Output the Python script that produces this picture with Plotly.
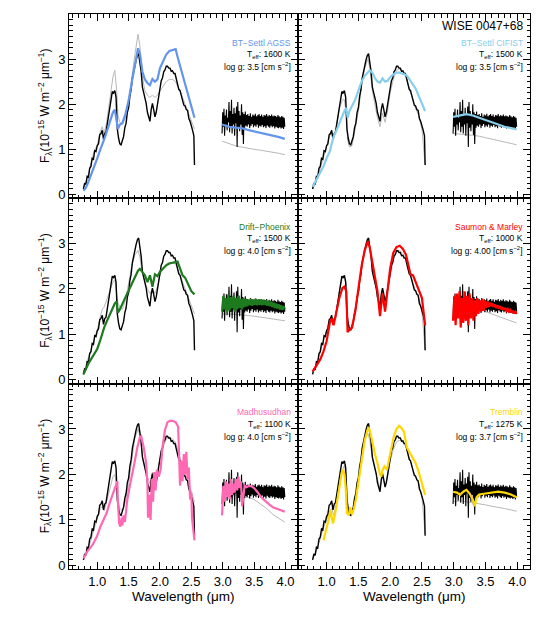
import plotly.graph_objects as go
from plotly.subplots import make_subplots

# ---------------- data ----------------
# observed spectrum, near-IR part
WL_OBS = [0.78,0.80,0.82,0.84,0.86,0.88,0.90,0.92,0.94,0.96,0.98,1.00,1.02,1.04,1.06,1.08,1.10,1.12,1.14,1.16,
          1.18,1.20,1.22,1.24,1.26,1.28,1.30,1.32,1.34,1.36,1.38,1.40,1.42,1.44,1.46,1.48,1.50,1.52,1.54,1.56,
          1.58,1.60,1.62,1.64,1.66,1.68,1.70,1.72,1.74,1.76,1.78,1.80,1.82,1.84,1.86,1.88,1.90,1.92,1.94,1.96,
          1.98,2.00,2.02,2.04,2.06,2.08,2.10,2.12,2.14,2.16,2.18,2.20,2.22,2.24,2.26,2.28,2.30,2.32,2.34,2.36,
          2.38,2.40,2.42,2.44,2.46,2.48,2.50,2.52,2.54,2.55]
OBS_NIR = [0.12,0.25,0.22,0.40,0.38,0.58,0.62,0.80,0.78,0.97,0.95,1.08,1.12,1.32,1.35,1.42,1.22,1.35,1.38,1.58,
           1.72,1.98,2.12,2.28,2.25,2.30,2.15,1.45,1.25,1.12,1.10,1.18,1.28,1.48,1.58,1.82,1.92,2.18,2.32,2.58,
           2.72,2.92,2.98,3.08,3.12,2.92,2.72,2.38,2.28,2.12,2.02,1.82,1.72,1.62,1.88,2.02,1.88,1.72,1.82,1.98,
           2.22,2.32,2.52,2.58,2.72,2.76,2.84,2.84,2.80,2.80,2.73,2.74,2.68,2.68,2.58,2.46,2.33,2.30,2.18,2.10,
           1.98,1.96,1.88,1.86,1.68,1.62,1.48,1.42,1.30,0.65]

# observed spectrum, L band (0.01 um steps)
WL_OBS_L = [2.99,3.00,3.01,3.02,3.03,3.04,3.05,3.06,3.07,3.08,3.09,3.10,3.11,3.12,3.13,3.14,3.15,3.16,3.17,3.18,
            3.19,3.20,3.21,3.22,3.23,3.24,3.25,3.26,3.27,3.28,3.29,3.30,3.31,3.32,3.33,3.34,3.35,3.36,3.37,3.38,
            3.39,3.40,3.41,3.42,3.43,3.44,3.45,3.46,3.47,3.48,3.49,3.50,3.51,3.52,3.53,3.54,3.55,3.56,3.57,3.58,
            3.59,3.60,3.61,3.62,3.63,3.64,3.65,3.66,3.67,3.68,3.69,3.70,3.71,3.72,3.73,3.74,3.75,3.76,3.77,3.78,
            3.79,3.80,3.81,3.82,3.83,3.84,3.85,3.86,3.87,3.88,3.89,3.90,3.91,3.92,3.93,3.94,3.95,3.96,3.97,3.98,
            3.99]
OBS_L = [1.35,1.82,1.50,1.90,1.30,1.75,1.55,1.88,1.42,1.70,
         1.60,2.05,1.38,1.85,1.50,2.10,1.35,1.78,1.55,1.92,
         1.30,1.80,1.58,1.95,1.05,2.05,1.48,1.85,1.40,1.75,
         1.55,2.00,1.32,1.82,1.12,1.78,1.48,1.84,1.52,1.76,
         1.50,1.78,1.55,1.74,1.47,1.80,1.52,1.72,1.56,1.77,
         1.49,1.75,1.53,1.79,1.50,1.73,1.55,1.76,1.48,1.78,
         1.52,1.74,1.50,1.77,1.54,1.72,1.49,1.76,1.51,1.75,
         1.47,1.78,1.53,1.73,1.50,1.76,1.48,1.74,1.52,1.77,
         1.49,1.73,1.51,1.75,1.46,1.74,1.50,1.72,1.48,1.76,
         1.47,1.73,1.49,1.71,1.46,1.74,1.48,1.72,1.45,1.70,1.50]

# L band, 0.02 um grid (noisy models)
WL_LN = [2.99,3.01,3.03,3.05,3.07,3.09,3.11,3.13,3.15,3.17,3.19,3.21,3.23,3.25,3.27,3.29,3.31,3.33,3.35,3.37,
         3.39,3.41,3.43,3.45,3.47,3.49,3.51,3.53,3.55,3.57,3.59,3.61,3.63,3.65,3.67,3.69,3.71,3.73,3.75,3.77,
         3.79,3.81,3.83,3.85,3.87,3.89,3.91,3.93,3.95,3.97,3.99]

# model grids
WL_M = [0.78,0.82,0.86,0.90,0.95,1.00,1.05,1.08,1.11,1.15,1.20,1.25,1.28,1.31,1.33,1.36,1.40,1.45,1.50,1.55,
        1.60,1.65,1.68,1.72,1.76,1.80,1.84,1.88,1.92,1.96,2.00,2.05,2.10,2.15,2.20,2.25,2.28,2.32,2.36,2.40,
        2.45,2.50,2.55]
WL_L = [2.99,3.10,3.20,3.30,3.40,3.50,3.60,3.70,3.80,3.90,3.99]

# BT-Settl AGSS
AGSS_NIR = [0.08,0.15,0.28,0.42,0.62,0.80,1.00,1.10,1.22,1.38,1.62,1.82,1.88,1.55,1.45,1.55,1.58,1.78,2.08,2.48,
            2.88,3.24,3.12,2.72,2.55,2.47,2.42,2.56,2.50,2.55,2.80,2.96,3.10,3.18,3.20,3.22,3.05,2.85,2.65,2.45,
            2.20,1.95,1.70]
AGSS_L = [1.55,1.50,1.48,1.47,1.43,1.40,1.37,1.34,1.31,1.27,1.23]
GREY1_NIR = [0.15,0.30,0.45,0.70,0.95,1.10,1.40,1.50,1.35,1.60,2.10,2.60,2.75,2.30,1.75,1.60,1.55,1.70,2.05,2.60,
             3.10,3.55,3.30,2.60,2.30,2.20,2.15,2.20,2.15,2.20,2.30,2.40,2.50,2.55,2.55,2.50,2.40,2.30,2.15,2.00,
             1.85,1.65,1.45]
GREY1_L = [1.18,1.12,1.08,1.05,1.02,1.00,0.98,0.96,0.94,0.91,0.88]

# BT-Settl CIFIST
CIFIST_NIR = [0.17,0.28,0.40,0.50,0.62,0.80,0.95,1.12,1.28,1.40,1.58,1.75,1.85,1.92,1.70,1.85,1.95,2.10,2.30,2.50,
              2.63,2.72,2.75,2.70,2.58,2.50,2.48,2.57,2.50,2.52,2.60,2.66,2.70,2.70,2.68,2.65,2.60,2.52,2.45,2.35,
              2.18,2.00,1.85]
CIFIST_L = [1.72,1.75,1.78,1.75,1.70,1.65,1.60,1.55,1.50,1.47,1.44]
GREY2_NIR = [0.12,0.22,0.38,0.58,0.85,1.05,1.30,1.38,1.22,1.50,1.90,2.10,2.10,1.80,1.20,1.05,1.08,1.45,1.85,2.40,
             2.80,3.00,2.80,2.30,2.00,1.70,1.50,1.80,1.60,1.85,2.25,2.55,2.75,2.78,2.72,2.62,2.45,2.25,2.05,1.90,
             1.75,1.45,0.65]
GREY2_L = [1.35,1.34,1.33,1.31,1.29,1.26,1.23,1.20,1.17,1.13,1.10]

# Drift-Phoenix
DRIFT_NIR = [0.12,0.25,0.36,0.45,0.56,0.68,0.88,1.02,1.15,1.28,1.45,1.58,1.68,1.72,1.48,1.55,1.68,1.82,1.96,2.12,
             2.28,2.40,2.44,2.38,2.30,2.15,2.30,2.05,2.32,2.28,2.38,2.45,2.52,2.56,2.58,2.60,2.60,2.45,2.30,2.25,
             2.10,1.95,1.88]
DRIFT_L = [1.50,1.85,1.55,1.80,1.48,1.88,1.52,1.82,1.58,1.85,
           1.50,1.80,1.55,1.85,1.58,1.78,1.55,1.80,1.60,1.78,
           1.62,1.76,1.64,1.78,1.63,1.77,1.65,1.78,1.64,1.76,
           1.65,1.77,1.64,1.76,1.65,1.75,1.63,1.74,1.62,1.72,
           1.60,1.70,1.58,1.68,1.57,1.66,1.55,1.64,1.54,1.62,1.55]
GREY3_NIR = [0.15,0.32,0.48,0.65,0.90,1.10,1.40,1.55,1.60,1.75,1.95,2.15,2.20,1.95,1.70,1.60,1.55,1.75,2.10,2.50,
             2.75,2.85,2.70,2.35,2.15,2.00,1.90,2.00,1.90,2.05,2.30,2.45,2.55,2.58,2.58,2.55,2.45,2.30,2.15,2.00,
             1.85,1.65,1.45]
GREY3_L = [1.45,1.45,1.44,1.43,1.42,1.40,1.38,1.36,1.34,1.32,1.30]

# Saumon & Marley
SM_NIR = [0.18,0.28,0.38,0.45,0.62,0.85,1.25,1.35,1.20,1.45,1.80,2.02,2.05,1.95,1.05,1.10,1.15,1.50,2.00,2.50,
          2.85,3.05,2.90,2.55,2.30,1.95,1.40,1.90,1.50,2.00,2.45,2.80,2.92,2.95,2.88,2.75,2.55,2.32,2.30,2.15,
          2.00,1.80,1.20]
SM_L = [1.30,1.85,1.20,1.90,1.35,1.95,1.15,1.80,1.25,1.95,
        1.30,1.85,1.20,1.90,1.35,1.80,1.30,1.75,1.40,1.80,
        1.45,1.75,1.50,1.78,1.52,1.75,1.58,1.72,1.60,1.70,
        1.62,1.68,1.60,1.66,1.58,1.64,1.57,1.62,1.55,1.60,
        1.54,1.58,1.52,1.56,1.50,1.54,1.48,1.52,1.46,1.50,1.45]
GREY4_NIR = [0.15,0.28,0.42,0.60,0.85,1.05,1.35,1.40,1.25,1.50,1.95,2.25,2.28,2.10,1.20,1.10,1.12,1.45,1.90,2.50,
             2.90,3.08,2.90,2.40,2.15,1.85,1.65,1.95,1.75,1.95,2.30,2.65,2.82,2.85,2.78,2.68,2.50,2.30,2.10,1.95,
             1.85,1.50,0.65]
GREY4_L = [1.55,1.58,1.58,1.57,1.55,1.50,1.45,1.40,1.35,1.30,1.25]

# Madhusudhan
WL_MAD = [0.78,0.85,0.93,1.00,1.05,1.08,1.11,1.15,1.20,1.25,1.30,1.32,1.33,1.35,1.37,1.39,1.40,1.42,1.44,1.46,
          1.48,1.52,1.56,1.60,1.64,1.68,1.70,1.74,1.78,1.80,1.81,1.83,1.85,1.87,1.89,1.91,1.93,1.95,1.98,2.01,
          2.04,2.08,2.12,2.16,2.20,2.25,2.29,2.31,2.32,2.34,2.36,2.38,2.40,2.42,2.44,2.46,2.48,2.50,2.51,2.53,
          2.55]
MAD_NIR = [0.15,0.32,0.46,0.65,0.85,0.95,1.02,1.15,1.38,1.58,1.75,1.85,1.40,0.92,0.85,1.05,0.88,1.10,0.95,1.30,
           1.45,1.75,2.00,2.30,2.60,2.82,2.84,2.60,2.25,1.80,1.05,1.55,1.00,1.90,1.40,2.05,1.65,2.10,1.95,2.10,
           2.60,2.98,3.15,3.18,3.18,3.15,3.05,2.40,1.75,2.30,1.85,2.45,2.00,2.50,1.90,2.15,1.45,1.60,1.05,0.80,
           0.55]
WL_MAD_L = [2.99,3.01,3.03,3.05,3.07,3.09,3.11,3.13,3.15,3.17,3.19,3.21,3.23,3.25,3.27,3.29,3.31,3.33,3.35,3.38,
            3.42,3.46,3.50,3.55,3.60,3.65,3.70,3.75,3.80,3.85,3.90,3.95,3.99]
MAD_L = [1.10,1.75,1.40,1.85,1.50,1.80,1.45,1.90,1.55,1.80,1.60,1.90,1.65,1.95,1.70,1.85,1.30,1.60,1.75,1.72,
         1.75,1.74,1.70,1.62,1.52,1.45,1.38,1.33,1.28,1.25,1.23,1.20,1.18]
GREY5_NIR = [0.12,0.25,0.40,0.55,0.80,1.02,1.25,1.30,1.20,1.40,1.70,1.95,2.00,1.75,1.45,1.25,1.20,1.40,1.80,2.35,
             2.80,3.00,2.85,2.40,2.15,1.95,1.80,2.05,1.85,2.05,2.35,2.60,2.78,2.82,2.78,2.70,2.55,2.35,2.15,2.00,
             1.85,1.60,1.40]
GREY5_L = [1.50,1.55,1.55,1.50,1.50,1.45,1.35,1.25,1.12,1.02,0.95]

# Tremblin
WL_TR = [0.95,1.00,1.04,1.06,1.08,1.10,1.13,1.16,1.20,1.24,1.26,1.28,1.30,1.32,1.35,1.37,1.40,1.43,1.46,1.50,
         1.56,1.60,1.64,1.66,1.69,1.72,1.76,1.80,1.84,1.86,1.88,1.91,1.95,2.00,2.06,2.10,2.14,2.18,2.22,2.26,
         2.30,2.35,2.40,2.45,2.50,2.55]
TR_NIR = [0.55,0.80,1.05,1.22,1.10,0.92,1.10,1.38,1.72,2.05,2.10,2.00,1.72,1.15,1.10,1.28,1.12,1.25,1.45,1.85,
          2.40,2.75,2.96,3.04,2.90,2.70,2.45,2.25,2.00,1.95,2.10,2.18,2.10,2.45,2.85,3.00,3.07,3.02,2.93,2.60,
          2.50,2.40,2.25,2.05,1.80,1.55]
WL_TR_L = [2.99,3.05,3.10,3.15,3.20,3.25,3.30,3.33,3.36,3.40,3.50,3.60,3.70,3.80,3.90,3.99]
TR_L = [1.62,1.60,1.55,1.62,1.66,1.58,1.45,1.30,1.50,1.56,1.58,1.60,1.62,1.60,1.56,1.50]
GREY6_NIR = [0.12,0.25,0.40,0.58,0.82,1.00,1.20,1.25,1.10,1.35,1.75,2.10,2.20,1.95,1.25,1.10,1.12,1.40,1.85,2.40,
             2.75,2.90,2.75,2.35,2.10,1.90,1.70,1.95,1.75,1.95,2.30,2.55,2.72,2.75,2.70,2.60,2.45,2.30,2.10,1.95,
             1.80,1.50,0.70]
GREY6_L = [1.40,1.42,1.40,1.38,1.36,1.33,1.30,1.28,1.25,1.22,1.19]

MODEL_NAMES = ["BT\u2212Settl AGSS", "BT\u2212Settl CIFIST", "Drift\u2212Phoenix",
               "Saumon & Marley", "Madhusudhan", "Tremblin"]
TEFF = ["1600", "1500", "1500", "1000", "1100", "1275"]
LOGG = ["3.5", "3.5", "4.0", "4.00", "4.0", "3.7"]
COLORS = ["#6495ED", "#87CEEB", "#1E7A1E", "#FF0000", "#FF69B4", "#FFD700"]
XTICKS = [1.0, 1.5, 2.0, 2.5, 3.0, 3.5, 4.0]
YTICKS = [0, 1, 2, 3]

# ---------------- figure ----------------
W, H = 538, 619
FONT = "Liberation Sans, Arial, Helvetica, sans-serif"
GREY = "#b8b8b8"

fig = make_subplots(rows=3, cols=2, horizontal_spacing=0, vertical_spacing=0)

panels = [
    (1, 1, (WL_M, AGSS_NIR), (WL_L, AGSS_L), GREY1_NIR, GREY1_L),
    (1, 2, (WL_M, CIFIST_NIR), (WL_L, CIFIST_L), GREY2_NIR, GREY2_L),
    (2, 1, (WL_M, DRIFT_NIR), (WL_LN, DRIFT_L), GREY3_NIR, GREY3_L),
    (2, 2, (WL_M, SM_NIR), (WL_LN, SM_L), GREY4_NIR, GREY4_L),
    (3, 1, (WL_MAD, MAD_NIR), (WL_MAD_L, MAD_L), GREY5_NIR, GREY5_L),
    (3, 2, (WL_TR, TR_NIR), (WL_TR_L, TR_L), GREY6_NIR, GREY6_L),
]

for i, (r, c, mn, ml, gn, gl) in enumerate(panels):
    fig.add_trace(go.Scatter(x=WL_M + [None] + WL_L, y=gn + [None] + gl, mode="lines",
                             line=dict(color=GREY, width=1), showlegend=False, hoverinfo="skip"), row=r, col=c)
    fig.add_trace(go.Scatter(x=WL_OBS, y=OBS_NIR, mode="lines",
                             line=dict(color="black", width=1.4), showlegend=False, hoverinfo="skip"), row=r, col=c)
    fig.add_trace(go.Scatter(x=WL_OBS_L, y=OBS_L, mode="lines",
                             line=dict(color="black", width=1.1), showlegend=False, hoverinfo="skip"), row=r, col=c)
    fig.add_trace(go.Scatter(x=mn[0] + [None] + ml[0], y=mn[1] + [None] + ml[1], mode="lines",
                             line=dict(color=COLORS[i], width=2.2), showlegend=False, hoverinfo="skip"), row=r, col=c)

# panel geometry in pixels
XL = [(69, 298), (298, 530)]
YR = [(14, 198), (198, 383.5), (383.5, 569)]

def px(x):
    return x / W

def py(y):
    return 1 - y / H

axis_common = dict(showline=True, linecolor="black", linewidth=1, mirror="allticks",
                   ticks="inside", ticklen=7, tickcolor="black", tickwidth=1, automargin=False,
                   showgrid=False, zeroline=False, tickfont=dict(family=FONT, size=13, color="black"))

for r in range(1, 4):
    for c in range(1, 3):
        idx = (r - 1) * 2 + c
        xname = "xaxis" if idx == 1 else f"xaxis{idx}"
        yname = "yaxis" if idx == 1 else f"yaxis{idx}"
        fig.layout[xname].update(
            domain=[px(XL[c - 1][0]), px(XL[c - 1][1])], range=[0.55, 4.2],
            tickvals=XTICKS, ticktext=[f"{v:.1f}" for v in XTICKS], showticklabels=(r == 3),
            minor=dict(dtick=0.1, tick0=0, ticks="inside", ticklen=3.5, tickcolor="black"),
            **axis_common)
        fig.layout[yname].update(
            domain=[py(YR[r - 1][1]), py(YR[r - 1][0])], range=[-0.08, 4.0],
            tickvals=YTICKS, ticktext=[str(v) for v in YTICKS], showticklabels=(c == 1),
            minor=dict(dtick=0.125, tick0=0, ticks="inside", ticklen=3.5, tickcolor="black"),
            **axis_common)

ann = []
YT = "F<sub>λ</sub>(10<sup>−15</sup> W m<sup>−2</sup> μm<sup>−1</sup>)"
for r in range(3):
    yc = (YR[r][0] + YR[r][1]) / 2
    ann.append(dict(x=px(45), y=py(yc), xref="paper", yref="paper", text=YT, textangle=-90,
                    showarrow=False, font=dict(family=FONT, size=12, color="black"),
                    xanchor="center", yanchor="middle"))
for c in range(2):
    xc = (XL[c][0] + XL[c][1]) / 2
    ann.append(dict(x=px(xc), y=py(587), xref="paper", yref="paper", text="Wavelength (μm)",
                    showarrow=False, font=dict(family=FONT, size=13.5, color="black"),
                    xanchor="center", yanchor="top"))

for i in range(6):
    r, c = i // 2, i % 2
    xr = XL[c][1] - 5
    top = YR[r][0]
    ann.append(dict(x=px(xr), y=py(top + 28.5), xref="paper", yref="paper", text=MODEL_NAMES[i],
                    showarrow=False, font=dict(family=FONT, size=8.5, color=COLORS[i]),
                    xanchor="right", yanchor="middle"))
    ann.append(dict(x=px(xr), y=py(top + 40.5), xref="paper", yref="paper",
                    text=f"T<sub>eff</sub>: {TEFF[i]} K",
                    showarrow=False, font=dict(family=FONT, size=8.5, color="black"),
                    xanchor="right", yanchor="middle"))
    ann.append(dict(x=px(xr), y=py(top + 52.5), xref="paper", yref="paper",
                    text=f"log g: {LOGG[i]} [cm s<sup>−2</sup>]",
                    showarrow=False, font=dict(family=FONT, size=8.5, color="black"),
                    xanchor="right", yanchor="middle"))

ann.append(dict(x=px(XL[1][1] - 5), y=py(26), xref="paper", yref="paper", text="WISE 0047+68",
                showarrow=False, font=dict(family=FONT, size=12, color="black"),
                xanchor="right", yanchor="middle"))

fig.update_layout(width=W, height=H, margin=dict(l=0, r=0, t=0, b=0),
                  paper_bgcolor="white", plot_bgcolor="white", annotations=ann,
                  font=dict(family=FONT, color="black"), showlegend=False, hovermode=False)

fig.write_html("out.html", config={"displayModeBar": False, "staticPlot": True},
               post_script="document.body.style.margin='0px';")
